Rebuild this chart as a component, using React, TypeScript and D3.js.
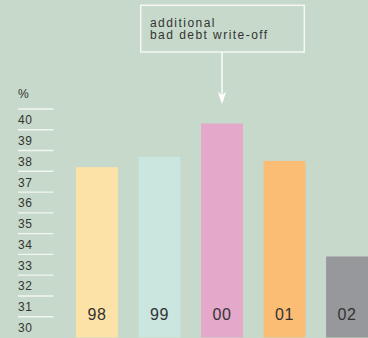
import React from "react";
import * as d3 from "d3";

const years = ["98", "99", "00", "01", "02"];
const values = [37.2, 37.7, 39.3, 37.5, 32.9];
const barColors = ["#fde2a8", "#cbe5df", "#e3a8ca", "#fbbc73", "#97989b"];
const ticks = [40, 39, 38, 37, 36, 35, 34, 33, 32, 31, 30];
const unitLabel = "%";
const noteLines = ["additional", "bad debt write-off"];
const noteYear = "00";

const W = 368;
const H = 338;

export default function App() {
  const x = d3.scaleBand<string>().domain(years).range([76, 368]).paddingInner(0.33).paddingOuter(0);
  const y = d3.scaleLinear().domain([30, 40]).range([316.7, 109]);
  const base = y(29);
  const textColor = "#333333";
  const noteX = (x(noteYear) as number) + x.bandwidth() / 2;
  const noteIdx = years.indexOf(noteYear);
  const arrowTip = y(values[noteIdx]) - 19.5;

  return (
    <div style={{ position: "fixed", left: 0, top: 0 }}>
      <svg width={W} height={H} style={{ display: "block" }}>
        <rect x={0} y={0} width={W} height={H} fill="#c7d9ca" />
        {/* y axis */}
        <text x={18} y={98} fontFamily="Liberation Sans" fontSize={12} fill={textColor} letterSpacing={0.5}>
          {unitLabel}
        </text>
        {ticks.map((t) => (
          <g key={t}>
            <line x1={18} x2={53.5} y1={y(t)} y2={y(t)} stroke="#f2f6f2" strokeWidth={1.4} />
            <text x={18} y={y(t) + 15.2} fontFamily="Liberation Sans" fontSize={12} fill={textColor} letterSpacing={0.6}>
              {t}
            </text>
          </g>
        ))}
        {/* bars */}
        {years.map((yr, i) => (
          <g key={yr}>
            <rect x={x(yr)} y={y(values[i])} width={x.bandwidth()} height={base - y(values[i])} fill={barColors[i]} />
            <text
              x={(x(yr) as number) + x.bandwidth() / 2}
              y={319.7}
              textAnchor="middle"
              fontFamily="Liberation Sans"
              fontSize={16}
              fill={textColor}
              letterSpacing={0.6}
            >
              {yr}
            </text>
          </g>
        ))}
        {/* annotation */}
        <rect x={140.7} y={5.3} width={163.6} height={46.7} fill="none" stroke="#f4f7f4" strokeWidth={1.5} />
        {noteLines.map((l, i) => (
          <text key={i} x={150} y={27.3 + i * 12} fontFamily="Liberation Sans" fontSize={12} fill={textColor} letterSpacing={1.45}>
            {l}
          </text>
        ))}
        <line x1={noteX} x2={noteX} y1={52} y2={arrowTip - 6} stroke="#ffffff" strokeWidth={1.4} />
        <path
          d={`M${noteX - 4.3},${arrowTip - 12.5} L${noteX},${arrowTip - 8.5} L${noteX + 4.3},${arrowTip - 12.5} L${noteX},${arrowTip} Z`}
          fill="#ffffff"
        />
      </svg>
    </div>
  );
}
